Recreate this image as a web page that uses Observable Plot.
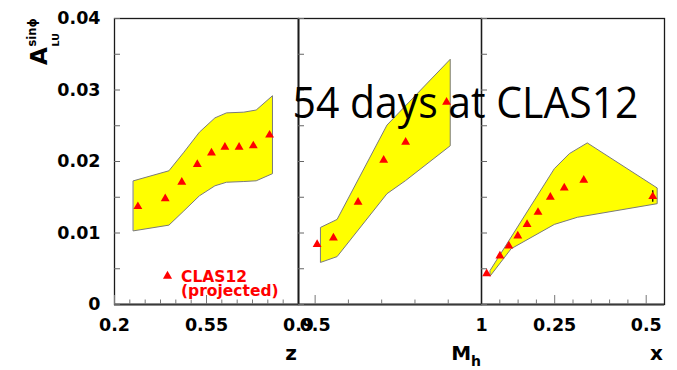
<!DOCTYPE html>
<html>
<head>
<meta charset="utf-8">
<script src="https://cdn.jsdelivr.net/npm/d3@7"></script>
<script src="https://cdn.jsdelivr.net/npm/@observablehq/plot@0.6"></script>
<style>
  body { margin: 0; background: #fff; }
  #chart { position: relative; width: 677px; height: 370px; overflow: hidden; background: #fff; }
  .panel { position: absolute; top: 0; }
  .panel svg { overflow: visible; }
</style>
</head>
<body>
<div id="chart"></div>
<script>
// ---------- data ----------
const titleText = "54 days at CLAS12";
const legendLine1 = "CLAS12";
const legendLine2 = "(projected)";

const yTicks = [0, 0.01, 0.02, 0.03, 0.04];
const yTickLabels = ["0", "0.01", "0.02", "0.03", "0.04"];
const yMinorTicks = [0.005, 0.015, 0.025, 0.035];
const yDomain = [0, 0.04];

// panel 1: z
const zDomain = [0.2, 0.9];
const zTicks = [0.2, 0.55, 0.9];
const zTickLabels = ["0.2", "0.55", "0.9"];
const zMinorTicks = [0.2583, 0.3167, 0.375, 0.4333, 0.4917, 0.6083, 0.6667, 0.725, 0.7833, 0.8417];
const zVals = [0.289, 0.393, 0.456, 0.515, 0.569, 0.620, 0.674, 0.728, 0.790];
const zA = [0.0137, 0.0148, 0.0171, 0.0196, 0.0212, 0.0220, 0.0220, 0.0222, 0.0237];
const zBandHiX = [0.272, 0.407, 0.464, 0.523, 0.582, 0.626, 0.692, 0.739, 0.801];
const zBandHi = [0.0173, 0.0187, 0.0213, 0.0241, 0.0261, 0.0268, 0.0269, 0.0272, 0.0292];
const zBandLoX = [0.272, 0.407, 0.464, 0.523, 0.582, 0.626, 0.692, 0.739, 0.801];
const zBandLo = [0.0103, 0.0111, 0.0131, 0.0152, 0.0166, 0.0171, 0.0172, 0.0173, 0.0183];

// panel 2: M_h
const mhDomain = [0.45, 1.0];
const mhTicks = [0.5, 1.0];
const mhTickLabels = ["0.5", "1"];
const mhMinorTicks = [0.6, 0.7, 0.8, 0.9];
const mhVals = [0.506, 0.555, 0.629, 0.706, 0.772, 0.895];
const mhA = [0.0084, 0.0093, 0.0143, 0.0202, 0.0227, 0.0283];
const mhBandHiX = [0.517, 0.566, 0.716, 0.906];
const mhBandHi = [0.0108, 0.0119, 0.0251, 0.0343];
const mhBandLoX = [0.517, 0.566, 0.716, 0.771, 0.906];
const mhBandLo = [0.0059, 0.0067, 0.0155, 0.0173, 0.0222];

// panel 3: x
const xDomain = [0.05, 0.55];
const xTicks = [0.25, 0.5];
const xTickLabels = ["0.25", "0.5"];
const xMinorTicks = [0.1, 0.15, 0.2, 0.3, 0.35, 0.4, 0.45];
const xVals = [0.0641, 0.1003, 0.1247, 0.1492, 0.1745, 0.2044, 0.2381, 0.2761, 0.3294, 0.5179];
const xA = [0.0043, 0.0068, 0.0082, 0.0096, 0.0112, 0.0129, 0.0150, 0.0163, 0.0174, 0.0151];
const xErr = [0, 0, 0, 0, 0, 0, 0, 0, 0, 0.0008];
const xBandHiX = [0.0739, 0.249, 0.290, 0.339, 0.530];
const xBandHi = [0.0048, 0.0190, 0.0211, 0.0226, 0.0163];
const xBandLoX = [0.0739, 0.131, 0.249, 0.312, 0.530];
const xBandLo = [0.0040, 0.0078, 0.0112, 0.0122, 0.0141];

// ---------- helpers ----------
function polygon(hx, hy, lx, ly) {
  const up = hx.map((x, i) => ({x, y: hy[i]}));
  const lo = lx.map((x, i) => ({x, y: ly[i]})).reverse();
  return up.concat(lo);
}
function points(xs, ys, es) {
  return xs.map((x, i) => ({x, y: ys[i], e: es ? es[i] : 0}));
}

const FONT = "DejaVu Sans, Liberation Sans, sans-serif";
const PANEL_TOP = 18, PANEL_BOTTOM = 66, H = 370;

function panel({left, width, marginLeft, domain, pts, poly, ticks, tickLabels, minorTicks, yLabels, errors, rightDivider}) {
  const marks = [
    Plot.line(poly, {x: "x", y: "y", curve: "linear-closed", fill: "#ffff00", stroke: "#7a7a7a", strokeWidth: 1}),
  ];
  if (errors) {
    marks.push(Plot.ruleX(pts.filter(d => d.e > 0), {x: "x", y1: d => d.y - d.e, y2: d => d.y + d.e, stroke: "#000", strokeWidth: 1.3}));
  }
  marks.push(
    Plot.dot(pts, {x: "x", y: "y", symbol: "triangle", r: 3.3, fill: "#ff0000", stroke: "none"}),
    Plot.frame({stroke: "#1a1a1a", strokeWidth: 1.3}),
    Plot.ruleY([yDomain[0]], {stroke: "#3a3a3a", strokeWidth: 2}),
    Plot.axisY(yMinorTicks, {anchor: "left", label: null, tickSize: -6, tickFormat: () => "", stroke: "#666"}),
    Plot.axisY(yTicks, {anchor: "left", label: null, tickSize: -6, tickPadding: 20, stroke: "#666",
      tickFormat: d => yLabels ? yTickLabels[yTicks.indexOf(d)] : "",
      fontSize: 17.5, fontWeight: "bold", fontFamily: FONT, fill: "#000"}),
    Plot.axisX(minorTicks, {anchor: "bottom", label: null, tickSize: -4.5, tickFormat: () => "", stroke: "#777"}),
    Plot.axisX(ticks, {anchor: "bottom", label: null, tickSize: -9, tickPadding: 23, stroke: "#777",
      tickFormat: d => tickLabels[ticks.indexOf(d)],
      fontSize: 17.5, fontWeight: "bold", fontFamily: FONT, fill: "#000"})
  );
  if (rightDivider) marks.push(Plot.ruleX([domain[1]], {stroke: "#5c5c5c", strokeWidth: 2}));
  const svg = Plot.plot({
    width, height: H,
    marginLeft, marginRight: 0, marginTop: PANEL_TOP, marginBottom: PANEL_BOTTOM,
    x: {domain, label: null},
    y: {domain: yDomain, label: null},
    style: {background: "transparent", overflow: "visible", fontFamily: FONT},
    marks
  });
  const div = document.createElement("div");
  div.className = "panel";
  div.style.left = left + "px";
  div.appendChild(svg);
  document.getElementById("chart").appendChild(div);
}

panel({left: 0, width: 298, marginLeft: 114, domain: zDomain,
  pts: points(zVals, zA), poly: polygon(zBandHiX, zBandHi, zBandLoX, zBandLo),
  ticks: zTicks, tickLabels: zTickLabels, minorTicks: zMinorTicks, yLabels: true, rightDivider: true});
panel({left: 298, width: 183, marginLeft: 0, domain: mhDomain,
  pts: points(mhVals, mhA), poly: polygon(mhBandHiX, mhBandHi, mhBandLoX, mhBandLo),
  ticks: mhTicks, tickLabels: mhTickLabels, minorTicks: mhMinorTicks, yLabels: false});
panel({left: 481, width: 183, marginLeft: 0, domain: xDomain,
  pts: points(xVals, xA, xErr), poly: polygon(xBandHiX, xBandHi, xBandLoX, xBandLo),
  ticks: xTicks, tickLabels: xTickLabels, minorTicks: xMinorTicks, yLabels: false, errors: true});

// ---------- overlay texts ----------
const ov = d3.select("#chart").append("svg")
  .attr("width", 677).attr("height", 370)
  .style("position", "absolute").style("left", "0px").style("top", "0px").style("overflow", "visible");

// y-axis title  A^{sinϕ}_{LU}
const yl = ov.append("g").attr("transform", "translate(47,65) rotate(-90)")
  .attr("font-family", FONT).attr("font-weight", "bold").attr("fill", "#000");
yl.append("text").attr("x", 0).attr("y", 0).attr("font-size", 23).text("A");
yl.append("text").attr("x", 18.5).attr("y", -11).attr("font-size", 11.5).text("sinϕ");
yl.append("text").attr("x", 18.5).attr("y", 12).attr("font-size", 9.5).text("LU");

// x-axis titles
const at = ov.append("g").attr("font-family", FONT).attr("font-weight", "bold").attr("fill", "#000").attr("text-anchor", "end");
at.append("text").attr("x", 297).attr("y", 360).attr("font-size", 20).text("z");
const mh = at.append("text").attr("x", 481).attr("y", 360).attr("font-size", 20);
mh.append("tspan").text("M");
mh.append("tspan").attr("font-size", 14).attr("dy", 6).text("h");
at.append("text").attr("x", 663).attr("y", 360).attr("font-size", 20).text("x");

// legend
ov.append("path").attr("d", d3.symbol(d3.symbolTriangle, 36)()).attr("transform", "translate(167.5,276)").attr("fill", "#ff0000");
const lg = ov.append("g").attr("font-family", FONT).attr("font-weight", "bold").attr("fill", "#ff0000").attr("font-size", 15.5);
lg.append("text").attr("x", 181).attr("y", 281.5).text(legendLine1);
lg.append("text").attr("x", 181).attr("y", 296).text(legendLine2);

// overlaid slide title
ov.append("text").attr("x", 292.5).attr("y", 118)
  .attr("font-family", "'Open Sans', Lato, sans-serif").attr("font-size", 44).attr("fill", "#000")
  .attr("textLength", 346).attr("lengthAdjust", "spacingAndGlyphs").text(titleText);
</script>
</body>
</html>
